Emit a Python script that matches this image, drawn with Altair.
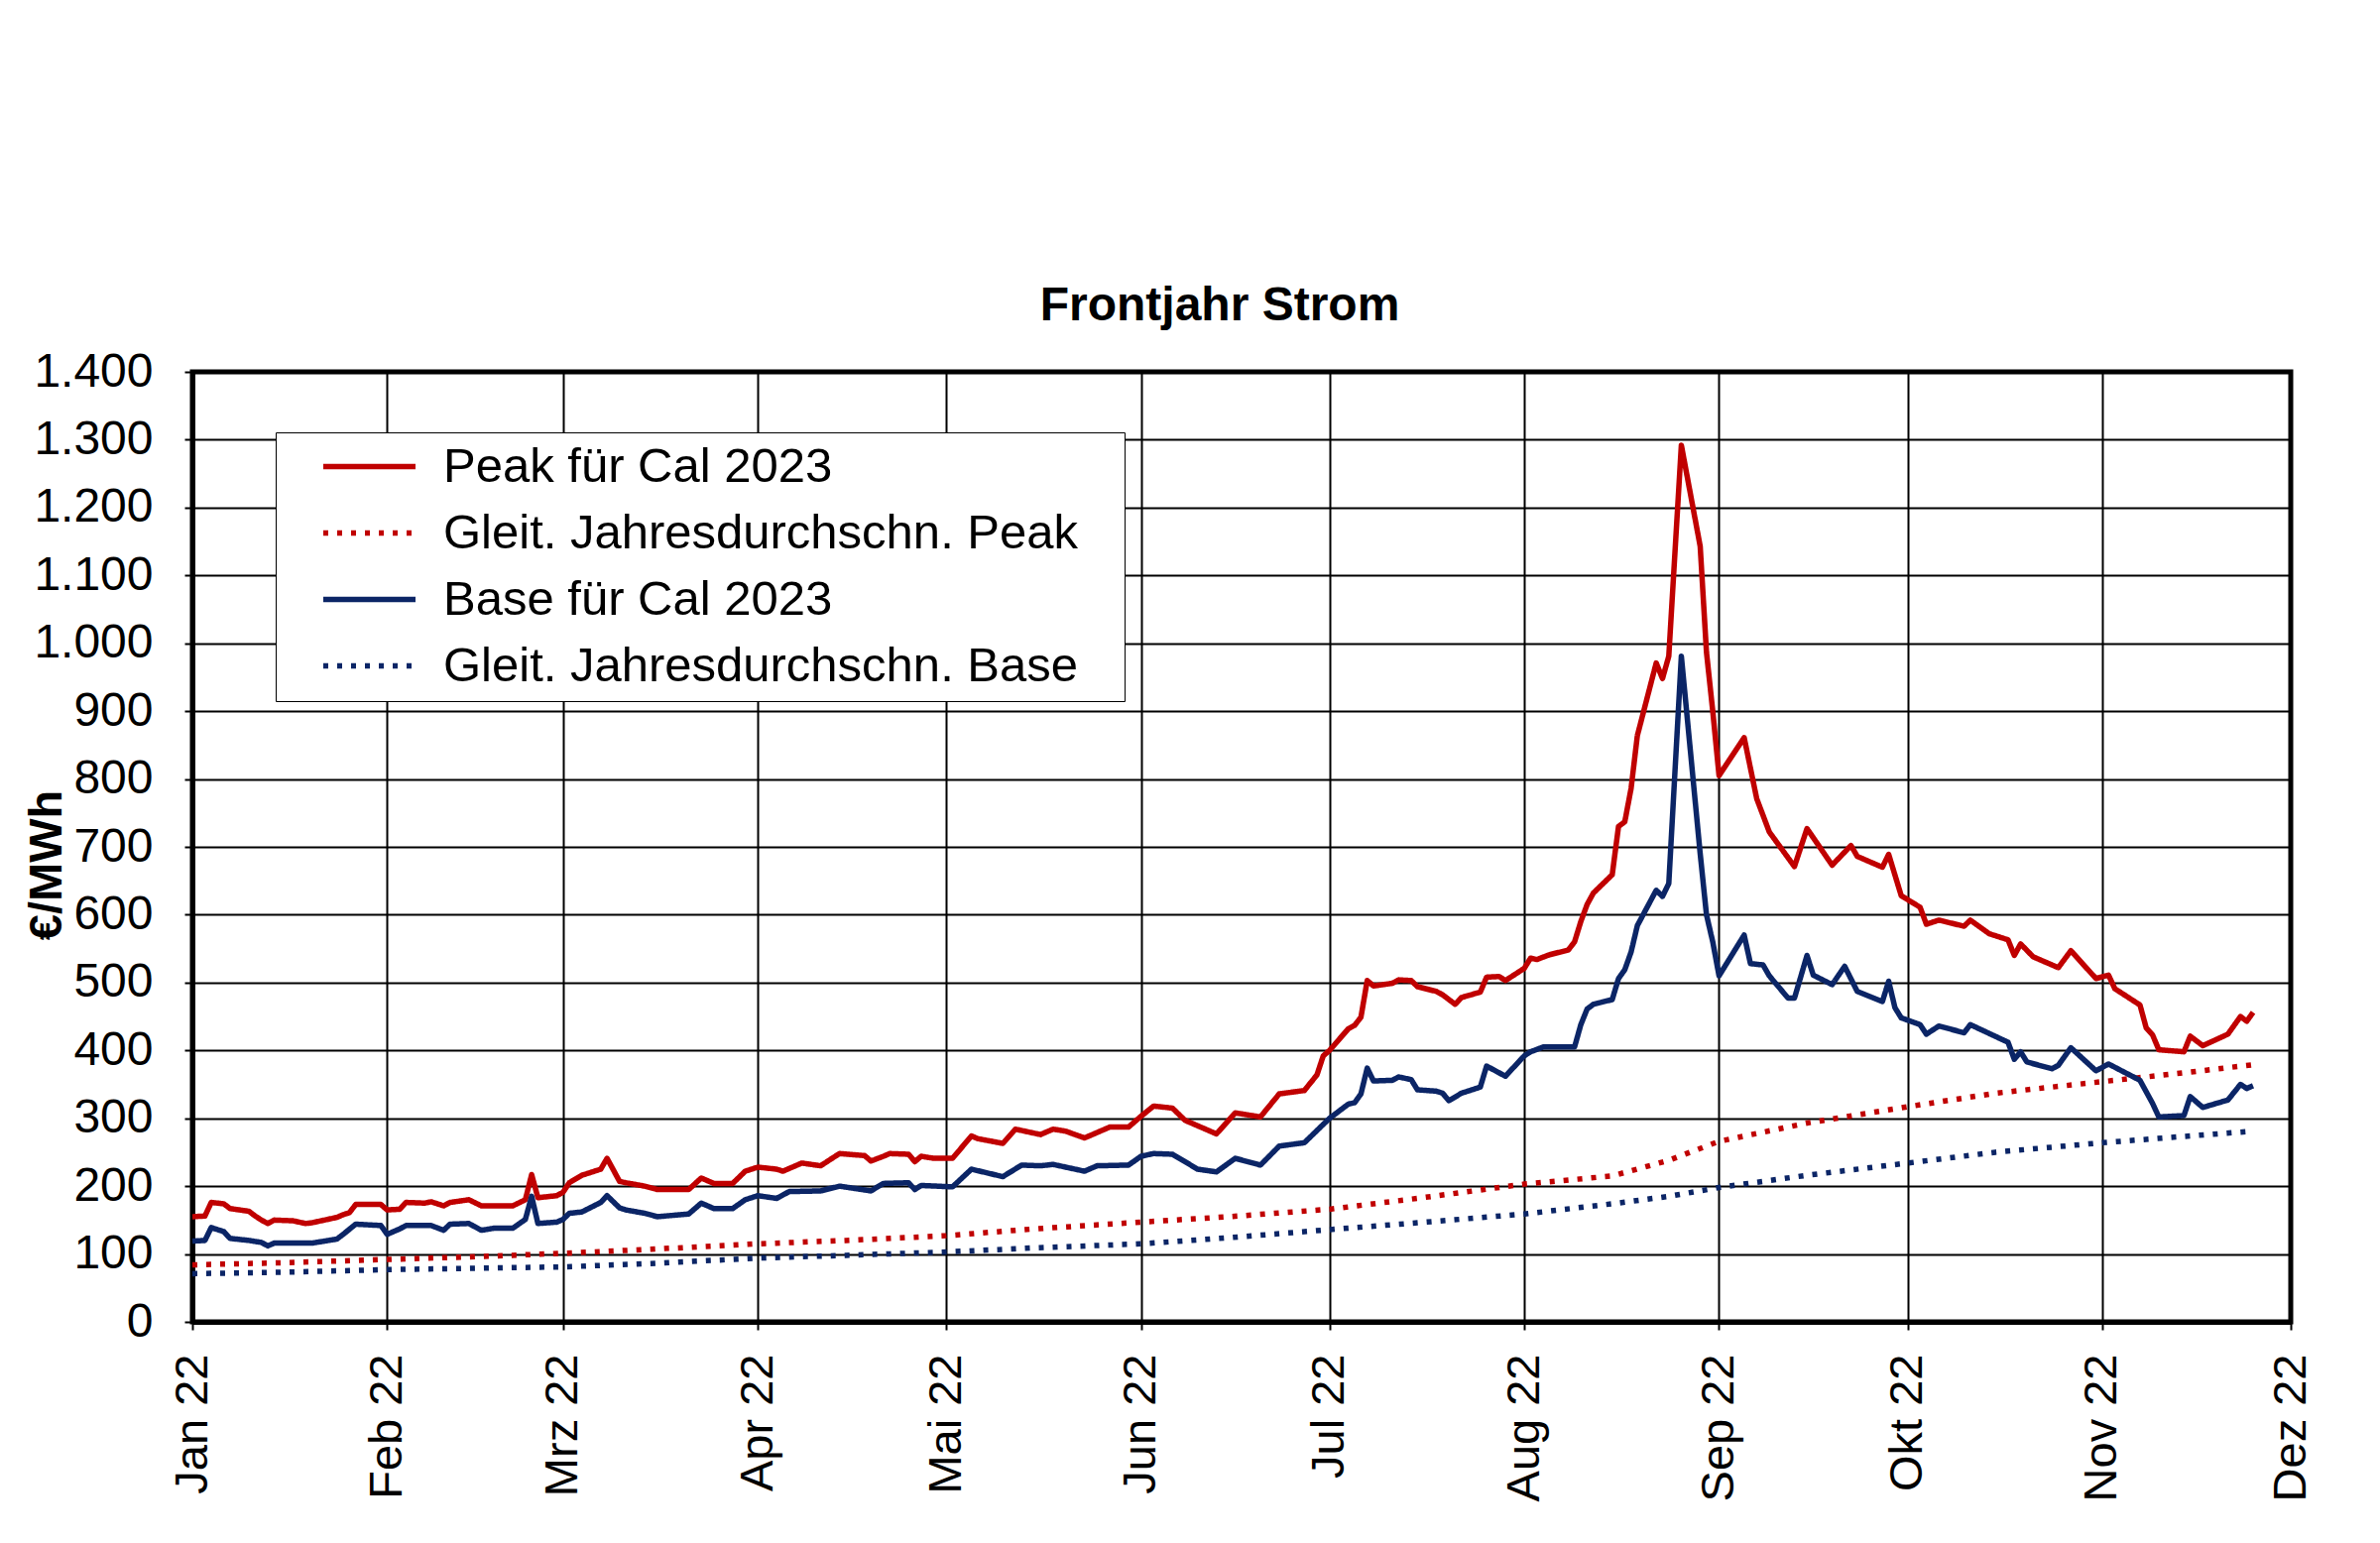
import altair as alt
import pandas as pd

RED = "#C00000"
BLUE = "#0B2566"

S_PEAK = "Peak für Cal 2023"
S_PAVG = "Gleit. Jahresdurchschn. Peak"
S_BASE = "Base für Cal 2023"
S_BAVG = "Gleit. Jahresdurchschn. Base"

peak_dates = [
    "2022-01-01", "2022-01-03", "2022-01-04", "2022-01-06", "2022-01-07", "2022-01-10", "2022-01-11", "2022-01-12",
    "2022-01-13", "2022-01-14", "2022-01-17", "2022-01-19", "2022-01-20", "2022-01-24", "2022-01-25",
    "2022-01-26", "2022-01-27", "2022-01-31", "2022-02-01", "2022-02-03", "2022-02-04", "2022-02-07",
    "2022-02-08", "2022-02-10", "2022-02-11", "2022-02-14", "2022-02-16", "2022-02-18", "2022-02-21",
    "2022-02-23", "2022-02-24", "2022-02-25", "2022-02-28", "2022-03-01", "2022-03-02", "2022-03-04",
    "2022-03-07", "2022-03-08", "2022-03-10", "2022-03-11", "2022-03-14", "2022-03-16", "2022-03-21",
    "2022-03-23", "2022-03-25", "2022-03-28", "2022-03-30", "2022-04-01", "2022-04-04", "2022-04-05",
    "2022-04-08", "2022-04-11", "2022-04-14", "2022-04-18", "2022-04-19", "2022-04-21", "2022-04-22",
    "2022-04-25", "2022-04-26", "2022-04-27", "2022-04-29", "2022-05-02", "2022-05-05", "2022-05-06",
    "2022-05-10", "2022-05-12", "2022-05-16", "2022-05-18", "2022-05-20", "2022-05-23", "2022-05-27",
    "2022-05-30", "2022-06-01", "2022-06-03", "2022-06-06", "2022-06-08", "2022-06-10", "2022-06-13",
    "2022-06-16", "2022-06-20", "2022-06-23", "2022-06-27", "2022-06-29", "2022-06-30", "2022-07-01",
    "2022-07-04", "2022-07-05", "2022-07-06", "2022-07-07", "2022-07-08", "2022-07-11", "2022-07-12",
    "2022-07-14", "2022-07-15", "2022-07-18", "2022-07-19", "2022-07-21", "2022-07-22", "2022-07-25",
    "2022-07-26", "2022-07-28", "2022-07-29", "2022-08-01", "2022-08-02", "2022-08-03", "2022-08-05",
    "2022-08-08", "2022-08-09", "2022-08-10", "2022-08-11", "2022-08-12", "2022-08-15", "2022-08-16",
    "2022-08-17", "2022-08-18", "2022-08-19", "2022-08-22", "2022-08-23", "2022-08-24", "2022-08-26",
    "2022-08-29", "2022-08-30", "2022-08-31", "2022-09-01", "2022-09-05", "2022-09-07", "2022-09-09",
    "2022-09-13", "2022-09-15", "2022-09-19", "2022-09-22", "2022-09-23", "2022-09-27", "2022-09-28",
    "2022-09-30", "2022-10-03", "2022-10-04", "2022-10-06", "2022-10-10", "2022-10-11", "2022-10-14",
    "2022-10-17", "2022-10-18", "2022-10-19", "2022-10-21", "2022-10-25", "2022-10-27", "2022-10-31",
    "2022-11-02", "2022-11-03", "2022-11-07", "2022-11-08", "2022-11-09", "2022-11-10", "2022-11-14",
    "2022-11-15", "2022-11-17", "2022-11-21", "2022-11-23", "2022-11-24", "2022-11-25",
]
peak_vals = [
    155, 156, 176, 174, 167, 163, 156, 150,
    145, 150, 149, 145, 146, 154, 158,
    161, 173, 173, 165, 166, 176, 175,
    177, 171, 176, 180, 171, 171, 171,
    180, 217, 183, 186, 191, 205, 216,
    225, 241, 207, 205, 200, 195, 195,
    212, 204, 204, 222, 228, 225, 222,
    234, 230, 248, 245, 237, 244, 248,
    247, 236, 244, 241, 241, 274, 270,
    263, 284, 276, 284, 281, 271, 287,
    287, 303, 318, 315, 297, 289, 277,
    308, 302, 336, 341, 364, 392, 400,
    432, 437, 449, 503, 495, 499, 504,
    503, 494, 487, 482, 468, 478, 486,
    508, 509, 503, 521, 536, 534, 541,
    548, 560, 590, 615, 632, 659, 730,
    737, 786, 864, 971, 948, 981, 1292,
    1143, 987, 900, 805, 861, 771, 722,
    671, 727, 673, 702, 686, 670, 689,
    628, 611, 586, 592, 583, 592, 572,
    563, 540, 557, 538, 522, 547, 506,
    511, 491, 467, 433, 423, 401, 398,
    421, 407, 424, 450, 443, 456,
]

base_dates = [
    "2022-01-01", "2022-01-03", "2022-01-04", "2022-01-06", "2022-01-07", "2022-01-10", "2022-01-12", "2022-01-13",
    "2022-01-14", "2022-01-19", "2022-01-20", "2022-01-24", "2022-01-25", "2022-01-27", "2022-01-31",
    "2022-02-01", "2022-02-03", "2022-02-04", "2022-02-08", "2022-02-10", "2022-02-11", "2022-02-14",
    "2022-02-16", "2022-02-18", "2022-02-21", "2022-02-23", "2022-02-24", "2022-02-25", "2022-02-28",
    "2022-03-01", "2022-03-02", "2022-03-04", "2022-03-07", "2022-03-08", "2022-03-10", "2022-03-11",
    "2022-03-14", "2022-03-16", "2022-03-21", "2022-03-23", "2022-03-25", "2022-03-28", "2022-03-30",
    "2022-04-01", "2022-04-04", "2022-04-06", "2022-04-11", "2022-04-14", "2022-04-19", "2022-04-21",
    "2022-04-25", "2022-04-26", "2022-04-27", "2022-05-02", "2022-05-05", "2022-05-10", "2022-05-13",
    "2022-05-16", "2022-05-18", "2022-05-23", "2022-05-25", "2022-05-30", "2022-06-01", "2022-06-03",
    "2022-06-06", "2022-06-10", "2022-06-13", "2022-06-16", "2022-06-20", "2022-06-23", "2022-06-27",
    "2022-06-29", "2022-07-01", "2022-07-04", "2022-07-05", "2022-07-06", "2022-07-07", "2022-07-08",
    "2022-07-11", "2022-07-12", "2022-07-14", "2022-07-15", "2022-07-18", "2022-07-19", "2022-07-20",
    "2022-07-22", "2022-07-25", "2022-07-26", "2022-07-29", "2022-08-01", "2022-08-02", "2022-08-04",
    "2022-08-09", "2022-08-10", "2022-08-11", "2022-08-12", "2022-08-15", "2022-08-16", "2022-08-17",
    "2022-08-18", "2022-08-19", "2022-08-22", "2022-08-23", "2022-08-24", "2022-08-26", "2022-08-29",
    "2022-08-30", "2022-08-31", "2022-09-01", "2022-09-05", "2022-09-06", "2022-09-08", "2022-09-09",
    "2022-09-12", "2022-09-13", "2022-09-15", "2022-09-16", "2022-09-19", "2022-09-21", "2022-09-23",
    "2022-09-27", "2022-09-28", "2022-09-29", "2022-09-30", "2022-10-03", "2022-10-04", "2022-10-06",
    "2022-10-10", "2022-10-11", "2022-10-17", "2022-10-18", "2022-10-19", "2022-10-20", "2022-10-24",
    "2022-10-25", "2022-10-27", "2022-10-31", "2022-11-02", "2022-11-07", "2022-11-09", "2022-11-10",
    "2022-11-14", "2022-11-15", "2022-11-17", "2022-11-21", "2022-11-23", "2022-11-24", "2022-11-25",
]
base_vals = [
    119, 120, 139, 133, 123, 120, 117, 112,
    116, 116, 116, 122, 129, 144, 142,
    129, 137, 142, 142, 135, 144, 145,
    135, 138, 138, 151, 185, 145, 147,
    151, 160, 162, 176, 186, 168, 165,
    160, 155, 159, 175, 167, 167, 180,
    186, 182, 192, 193, 200, 193, 204,
    205, 195, 201, 199, 225, 214, 231,
    230, 232, 222, 230, 231, 244, 248,
    247, 225, 221, 241, 231, 259, 264,
    282, 300, 321, 323, 336, 374, 355,
    356, 361, 357, 342, 340, 337, 326,
    337, 346, 377, 362, 392, 398, 405,
    405, 438, 461, 468, 475, 506, 519,
    545, 584, 636, 627, 646, 981, 690,
    600, 560, 510, 570, 528, 526, 510,
    477, 477, 540, 511, 497, 524, 487,
    472, 502, 463, 448, 438, 424, 436,
    426, 438, 412, 387, 398, 383, 373,
    378, 404, 370, 380, 356, 322, 302,
    304, 332, 316, 327, 350, 344, 348,
]

avg_dates = [
    "2022-01-01", "2022-01-15", "2022-02-01", "2022-02-15", "2022-03-01", "2022-03-15",
    "2022-04-01", "2022-04-15", "2022-05-01", "2022-05-15", "2022-06-01", "2022-06-15",
    "2022-07-01", "2022-07-15", "2022-08-01", "2022-08-15", "2022-08-24", "2022-09-01",
    "2022-09-15", "2022-10-01", "2022-10-15", "2022-11-01", "2022-11-15", "2022-11-25",
]
peak_avg_vals = [84, 87, 92, 96, 101, 107, 115, 120, 127, 137, 147, 155,
                 166, 182, 203, 215, 238, 266, 293, 317, 337, 354, 368, 379]
base_avg_vals = [71, 73, 77, 79, 81, 86, 94, 98, 103, 109, 115, 124,
                 136, 146, 159, 174, 185, 198, 216, 234, 250, 264, 274, 281]

month_names = ["Jan", "Feb", "Mrz", "Apr", "Mai", "Jun", "Jul", "Aug", "Sep", "Okt", "Nov", "Dez"]
y_ticks = list(range(0, 1401, 100))

series_order = [S_PEAK, S_PAVG, S_BASE, S_BAVG]

frames = [
    pd.DataFrame({"date": peak_dates, "value": peak_vals, "series": S_PEAK}),
    pd.DataFrame({"date": avg_dates, "value": peak_avg_vals, "series": S_PAVG}),
    pd.DataFrame({"date": base_dates, "value": base_vals, "series": S_BASE}),
    pd.DataFrame({"date": avg_dates, "value": base_avg_vals, "series": S_BAVG}),
]
df = pd.concat(frames, ignore_index=True)

FONT = "Liberation Sans, Arial, sans-serif"

month_ticks = [alt.DateTime(year=2022, month=m, date=1, utc=True) for m in range(1, 13)]
names_js = "[" + ",".join("'%s'" % n for n in month_names) + "]"

x_enc = alt.X(
    "date:T",
    title=None,
    scale=alt.Scale(
        type="utc",
        domain=[alt.DateTime(year=2022, month=1, date=1, utc=True),
                alt.DateTime(year=2022, month=12, date=1, utc=True)],
    ),
    axis=alt.Axis(
        values=month_ticks,
        labelExpr=names_js + "[utcmonth(datum.value)] + ' 22'",
        labelAngle=270,
        labelAlign="right",
        labelBaseline="middle",
        labelFontSize=47,
        labelPadding=24,
        labelOverlap=False,
        tickSize=8,
    ),
)

y_enc = alt.Y(
    "value:Q",
    title="€/MWh",
    scale=alt.Scale(domain=[0, 1400], nice=False),
    axis=alt.Axis(
        values=y_ticks,
        labelExpr="replace(format(datum.value, ','), ',', '.')",
        labelFontSize=48,
        labelPadding=32,
        tickSize=8,
        titleFontSize=47,
        titleFontWeight="bold",
        titleAngle=270,
        titleX=-147,
        titleY=497,
        titleAlign="center",
        titleBaseline="middle",
    ),
)

# blank (non-whitespace) padding glyph so the legend box gets some room on the right
PAD = "\u2800"

legend_props = dict(
    title=None,
    orient="none",
    legendX=84,
    legendY=61,
    symbolType="stroke",
    symbolSize=8650,
    symbolStrokeWidth=5.5,
    labelFontSize=49,
    labelFont=FONT,
    labelColor="black",
    labelLimit=2000,
    labelOffset=25,
    labelExpr="datum.label + '" + PAD + "'",
    symbolOffset=35,
    padding=10,
    rowPadding=17,
    clipHeight=49,
    strokeColor="black",
    fillColor="white",
)

color_enc = alt.Color(
    "series:N",
    scale=alt.Scale(domain=series_order, range=[RED, RED, BLUE, BLUE]),
    legend=alt.Legend(**legend_props),
)

dash_enc = alt.StrokeDash(
    "series:N",
    scale=alt.Scale(domain=series_order, range=[[1, 0], [5, 9], [1, 0], [5, 9]]),
    legend=alt.Legend(**legend_props),
)

chart = (
    alt.Chart(df)
    .mark_line(strokeWidth=5.5, strokeJoin="round")
    .encode(x=x_enc, y=y_enc, color=color_enc, strokeDash=dash_enc, detail="series:N")
    .properties(
        width=2116,
        height=958,
        autosize="none",
        padding={"left": 186, "top": 367, "right": 80, "bottom": 200},
        title=alt.TitleParams(
            "Frontjahr Strom",
            fontSize=48,
            font=FONT,
            fontWeight="bold",
            color="black",
            anchor="middle",
            offset=18,
            dx=-22,
        ),
        background="white",
    )
    .configure_axis(
        labelFont=FONT,
        titleFont=FONT,
        labelColor="black",
        titleColor="black",
        gridColor="black",
        gridWidth=2,
        gridOpacity=1,
        tickColor="black",
        tickWidth=2,
        domainColor="black",
        domainWidth=5,
        grid=True,
    )
    .configure_view(stroke="black", strokeWidth=5)
)

chart.save("out.html", embed_options={"renderer": "svg", "actions": False})
